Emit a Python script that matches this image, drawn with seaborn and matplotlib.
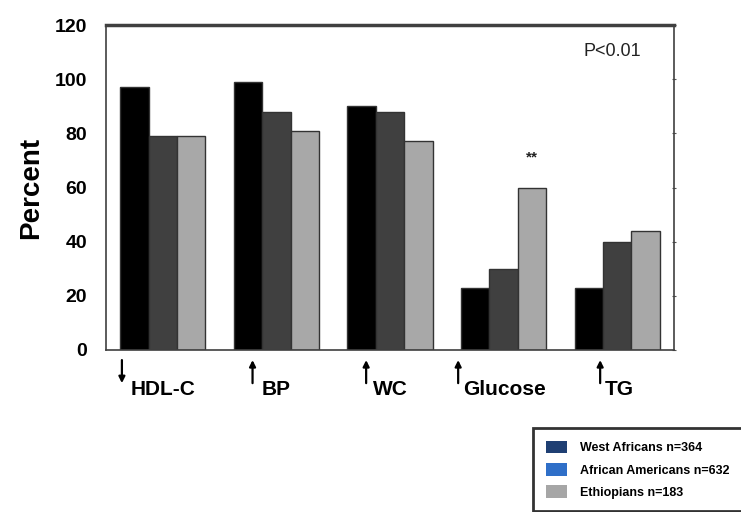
import pandas as pd
import matplotlib
matplotlib.use('Agg')
import matplotlib.pyplot as plt
from matplotlib.patches import Patch
import seaborn as sns

# data
categories = ['HDL-C', 'BP', 'WC', 'Glucose', 'TG']
arrows = ['down', 'up', 'up', 'up', 'up']
groups = ['West Africans n=364', 'African Americans n=632', 'Ethiopians n=183']
west_africans = [97, 99, 90, 23, 23]
african_americans = [79, 88, 88, 30, 40]
ethiopians = [79, 81, 77, 60, 44]

bar_colors = ['#000000', '#404040', '#a8a8a8']
legend_colors = ['#1f3f73', '#2f6fc8', '#a6a6a6']

# label offsets (in category units) for the arrow and the text
arrow_dx = [-0.36, -0.21, -0.21, -0.40, -0.15]
label_dx = [-0.28, -0.13, -0.15, -0.36, -0.11]

df = pd.DataFrame({
    'category': categories * 3,
    'group': [groups[0]] * 5 + [groups[1]] * 5 + [groups[2]] * 5,
    'value': west_africans + african_americans + ethiopians,
})

sns.set_style('white')
plt.rcParams['font.family'] = ['Liberation Sans', 'DejaVu Sans']
plt.rcParams['text.color'] = 'black'
plt.rcParams['axes.labelcolor'] = 'black'
plt.rcParams['ytick.labelcolor'] = 'black'

fig = plt.figure(figsize=(7.41, 5.12), dpi=100)
ax = fig.add_axes([106 / 741, 162 / 512, 568 / 741, 325 / 512])

sns.barplot(data=df, x='category', y='value', hue='group', order=categories,
            hue_order=groups, palette=bar_colors, width=0.75, saturation=1,
            edgecolor='#333333', linewidth=1, legend=False, ax=ax)

ax.set_xlim(-0.5, 4.5)
ax.set_ylim(0, 120)
ax.set_yticks(range(0, 121, 20))
ax.set_yticklabels([str(v) for v in range(0, 121, 20)], fontsize=14, fontweight='bold')
ax.tick_params(axis='y', direction='inout', length=3, pad=12, color='#555555', right=True)
ax.set_xticks([0.5, 1.5, 2.5, 3.5])
ax.set_xticklabels([])
ax.tick_params(axis='x', direction='out', length=6, color='#777777')
ax.set_xlabel('')
ax.set_ylabel('Percent', fontsize=20, fontweight='bold', labelpad=8)

for side in ['left', 'right', 'bottom']:
    ax.spines[side].set_color('#404040')
    ax.spines[side].set_linewidth(1.2)
ax.spines['top'].set_color('#404040')
ax.spines['top'].set_linewidth(2.5)

# category labels with up/down arrows below the axis
trans = ax.get_xaxis_transform()
for i, name in enumerate(categories):
    ax.text(i + label_dx[i], -0.138, name, transform=trans, ha='left',
            va='baseline', fontsize=15, fontweight='bold')
    tail, head = -0.102, -0.031
    if arrows[i] == 'down':
        tail, head = head, tail
    ax.annotate('', xy=(i + arrow_dx[i], head), xytext=(i + arrow_dx[i], tail),
                xycoords=trans, textcoords=trans, annotation_clip=False,
                arrowprops=dict(arrowstyle='-|>', color='black', lw=1.6,
                                mutation_scale=9, shrinkA=0, shrinkB=0))

# significance marker over the Ethiopian glucose bar
bar = ax.patches[2 * len(categories) + 3]
ax.text(bar.get_x() + bar.get_width() / 2, bar.get_height() + 11, '**',
        ha='center', va='center', fontsize=11, fontweight='bold', color='#222222')

ax.text(0.84, 0.917, 'P<0.01', transform=ax.transAxes, ha='left', va='center',
        fontsize=13, color='#222222')

handles = [Patch(facecolor=c, edgecolor='none') for c in legend_colors]
leg = fig.legend(handles, groups, loc='upper left',
                 bbox_to_anchor=(533 / 741, 1 - 428 / 512),
                 prop={'size': 9, 'weight': 'bold'}, frameon=True, fancybox=False,
                 handlelength=1.7, handleheight=1.2, labelspacing=0.7,
                 borderpad=1.0, handletextpad=1.1, borderaxespad=0)
leg.get_frame().set_edgecolor('black')
leg.get_frame().set_linewidth(2)

fig.savefig('out.png', dpi=100)
